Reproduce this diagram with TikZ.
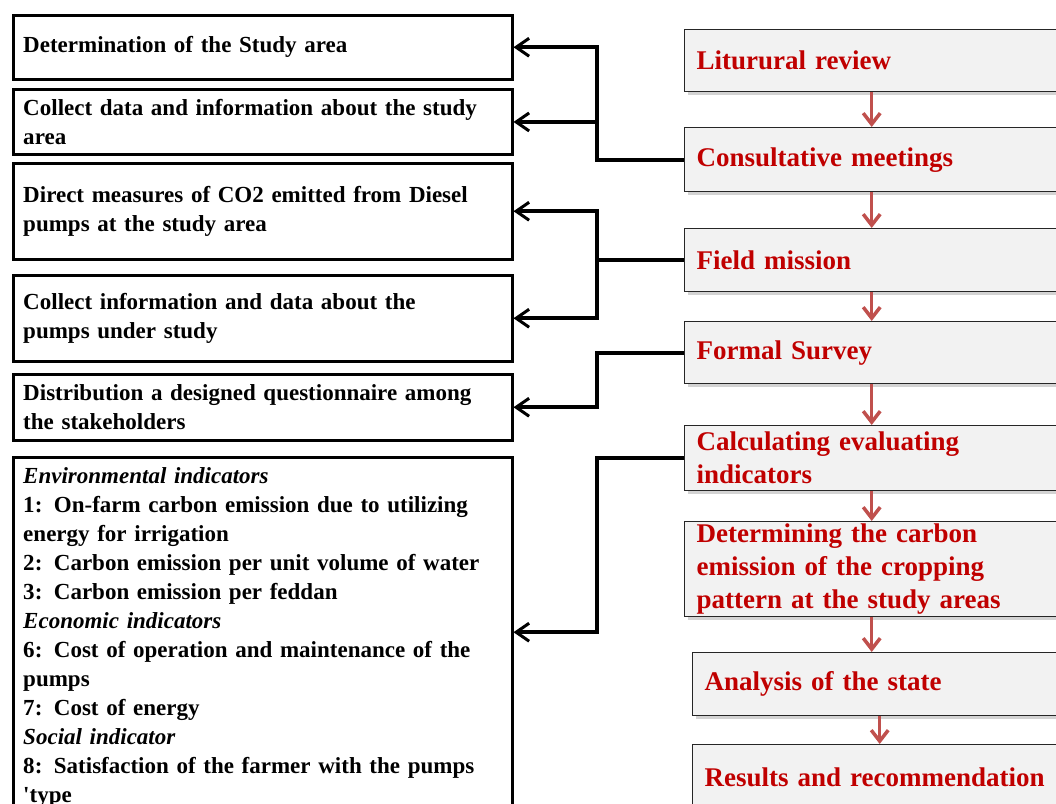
\documentclass[tikz,border=0pt]{standalone}
\usepackage{fontspec}
\setmainfont{Liberation Serif}
\usetikzlibrary{arrows.meta,shadows}
\definecolor{stagered}{RGB}{192,0,0}
\definecolor{flowred}{RGB}{192,80,77}
\definecolor{stagegray}{RGB}{242,242,242}
\tikzset{
    task/.style={
           rectangle,
           draw=black, line width=2.5pt,
           text width=479pt,
           inner xsep=10pt,
           inner ysep=10pt,
           align=left,
           anchor=north west,
           font=\fontsize{23}{29}\selectfont\bfseries,
           },
    stage/.style={
           rectangle,
           draw=black!85, line width=1.4pt,
           fill=stagegray,
           drop shadow={shadow xshift=3pt,shadow yshift=-3pt,opacity=0.35},
           text width=350pt,
           inner xsep=12pt,
           inner ysep=2pt,
           align=left,
           anchor=north west,
           text=stagered,
           font=\fontsize{27}{33}\selectfont\bfseries,
           },
    link/.style={
           draw=black, line width=3.8pt, line join=miter,
           -{Straight Barb[length=13pt,width=18pt,line width=3pt]},
           },
    flow/.style={
           draw=flowred, line width=3.5pt,
           -{Straight Barb[length=11pt,width=17pt,line width=3.5pt]},
           },
}

\begin{document}
\begin{tikzpicture}[x=1pt,y=-1pt]
  \useasboundingbox (0,0) rectangle (1056,803);
  \clip (0,0) rectangle (1056,803);

  % left column: what is done in each stage
  % all boxes hang from their top left corner
  \node[task,minimum height=64pt] (AREA) at (12,14)
  {Determination of the Study area};

  \node[task,minimum height=63pt] (COLLECT) at (12,88)
  {Collect data and information about the study\\area};

  \node[task,minimum height=96pt] (MEASURE) at (12,162)
  {Direct measures of CO2 emitted from Diesel\\pumps at the study area};

  \node[task,minimum height=86pt] (PUMPS) at (12,274)
  {Collect information and data about the\\pumps under study};

  \node[task,minimum height=66pt] (QUEST) at (12,373)
  {Distribution a designed questionnaire among\\the stakeholders};

  % long list of indicators, runs off the bottom
  \node[task] (INDIC) at (12,456)
  {\textbf{\textit{Environmental indicators}}\\
   1: On-farm carbon emission due to utilizing\\
   energy for irrigation\\
   2: Carbon emission per unit volume of water\\
   3: Carbon emission per feddan\\
   \textbf{\textit{Economic indicators}}\\
   6: Cost of operation and maintenance of the\\
   pumps\\
   7: Cost of energy\\
   \textbf{\textit{Social indicator}}\\
   8: Satisfaction of the farmer with the pumps\\
   \textquotesingle type};

  % right column: the stages of the work
  \node[stage,minimum height=62pt] (LIT) at (684,29) {Liturural review};
  \node[stage,minimum height=64pt] (CONS) at (684,127) {Consultative meetings};
  \node[stage,minimum height=63pt] (FIELD) at (684,228) {Field mission};
  \node[stage,minimum height=62pt] (FORMAL) at (684,321) {Formal Survey};
  \node[stage,minimum height=65pt] (CALC) at (684,425)
  {Calculating evaluating\\indicators};
  \node[stage,minimum height=95pt] (DET) at (684,521)
  {Determining the carbon\\emission of the cropping\\pattern at the study areas};
  \node[stage,minimum height=63pt] (ANA) at (692,652) {Analysis of the state};
  \node[stage,minimum height=66pt] (RES) at (692,744) {Results and recommendation};

  % red arrows down the stages
  \path
  (LIT) edge[flow] (CONS)
  (CONS) edge[flow] (FIELD)
  (FIELD) edge[flow] (FORMAL)
  (FORMAL) edge[flow] (CALC)
  (CALC) edge[flow] (DET)
  (DET.south) edge[flow] (DET.south |- ANA.north)
  (ANA) edge[flow] (RES)
  ;

  % black links from a stage back to its tasks
  \coordinate (BUS) at (597,0);
  \draw[link] (CONS.west) -- (CONS.west -| BUS) |- (AREA.east);
  \draw[link] (CONS.west -| BUS) |- (COLLECT.east);
  \draw[link] (FIELD.west) -- (FIELD.west -| BUS) |- (MEASURE.east);
  \draw[link] (FIELD.west -| BUS) |- (PUMPS.east);
  \draw[link] (FORMAL.west) -- (FORMAL.west -| BUS) |- (QUEST.east);
  \draw[link] (CALC.west) -- (CALC.west -| BUS) |- ([yshift=5pt]INDIC.east);
\end{tikzpicture}
\end{document}
